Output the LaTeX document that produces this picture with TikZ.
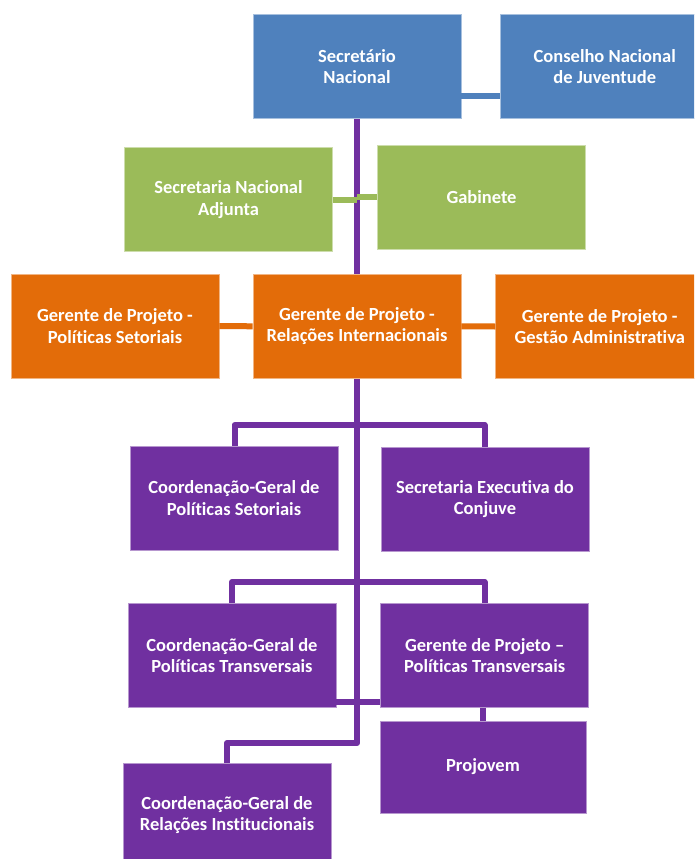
\documentclass[tikz,border=0pt]{standalone}
\usepackage{fontspec}
\setmainfont[Ligatures=NoCommon]{Carlito}
\definecolor{cblue}{HTML}{4F81BD}
\definecolor{cgreen}{HTML}{9BBB59}
\definecolor{corange}{HTML}{E36C09}
\definecolor{cpurple}{HTML}{7030A0}
\tikzset{
  box/.style={rectangle, minimum width=208pt, minimum height=104pt, inner sep=2pt,
    align=center, text=white, font=\fontsize{18.5}{21.5}\selectfont\bfseries, line width=0.8pt},
  bluebox/.style={box, fill=cblue, draw=cblue!50!white},
  greenbox/.style={box, fill=cgreen, draw=cgreen!50!white},
  orangebox/.style={box, fill=corange, draw=corange!50!white},
  purplebox/.style={box, fill=cpurple, draw=cpurple!50!white},
  conn/.style={line width=6pt, line join=round},
  blueline/.style={conn, draw=cblue},
  greenline/.style={conn, draw=cgreen},
  orangeline/.style={conn, draw=corange},
  purpleline/.style={conn, draw=cpurple},
}
\begin{document}
\begin{tikzpicture}[x=1pt,y=-1pt]
\useasboundingbox (0,0) rectangle (694,859);
\clip (0,0) rectangle (694,859);
\fill[white] (0,0) rectangle (694,859);

% connectors first (behind boxes)
\coordinate (t0) at (357,118);
\coordinate (t1) at (357,743);
\draw[purpleline] (t0) -- (t1) -- (227,743) coordinate (t2) -- (227,765) coordinate (t3);
\draw[purpleline] (234.5,448) coordinate (b1l) -- (234.5,425) -- (484.5,425) -- (484.5,449) coordinate (b1r);
\draw[purpleline] (232,606) coordinate (b2l) -- (232,582) -- (484.5,582) -- (484.5,606) coordinate (b2r);

\node[bluebox] (sec) at (357,66.5) {Secretário\\Nacional};
\node[bluebox] (cons) at (604.7,66.5) {Conselho Nacional\\de Juventude};
\node[greenbox] (adj) at (228.5,199.5) {Secretaria Nacional\\Adjunta};
\node[greenbox] (gab) at (481.5,197.3) {Gabinete};
\node[orangebox] (gps) at (115,326) {Gerente de Projeto -\\Políticas Setoriais};
\node[orangebox] (gri) at (357,326.3) {Gerente de Projeto -\\Relações Internacionais};
\node[orangebox] (gga) at (599.7,326.5) {Gerente de Projeto -\\Gestão Administrativa};
\node[purplebox] (cps) at (234,498) {Coordenação-Geral de\\Políticas Setoriais};
\node[purplebox] (sece) at (485,499) {Secretaria Executiva do\\Conjuve};
\node[purplebox] (cpt) at (232,655.5) {Coordenação-Geral de\\Políticas Transversais};
\node[purplebox] (gpt) at (484.7,655.5) {Gerente de Projeto –\\Políticas Transversais};
\node[purplebox, minimum width=206pt, minimum height=92pt] (proj) at (483,767) {Projovem};
\node[purplebox] (cri) at (227,815) {Coordenação-Geral de\\Relações Institucionais};

% remaining connectors
\draw[blueline] (sec.east |- 0,96) -- (cons.west |- 0,96);
\draw[greenline] (adj.east) -- (adj.east -| t0);
\draw[greenline] (gab.west) -- (gab.west -| t0);
\draw[orangeline] (gps.east) -- (gri.west);
\draw[orangeline] (gri.east) -- (gga.west);
\draw[purpleline] (cpt.east |- 0,702) -- (gpt.west |- 0,702);
\draw[purpleline] (gpt.south -| proj.north) -- (proj.north);
\end{tikzpicture}
\end{document}
